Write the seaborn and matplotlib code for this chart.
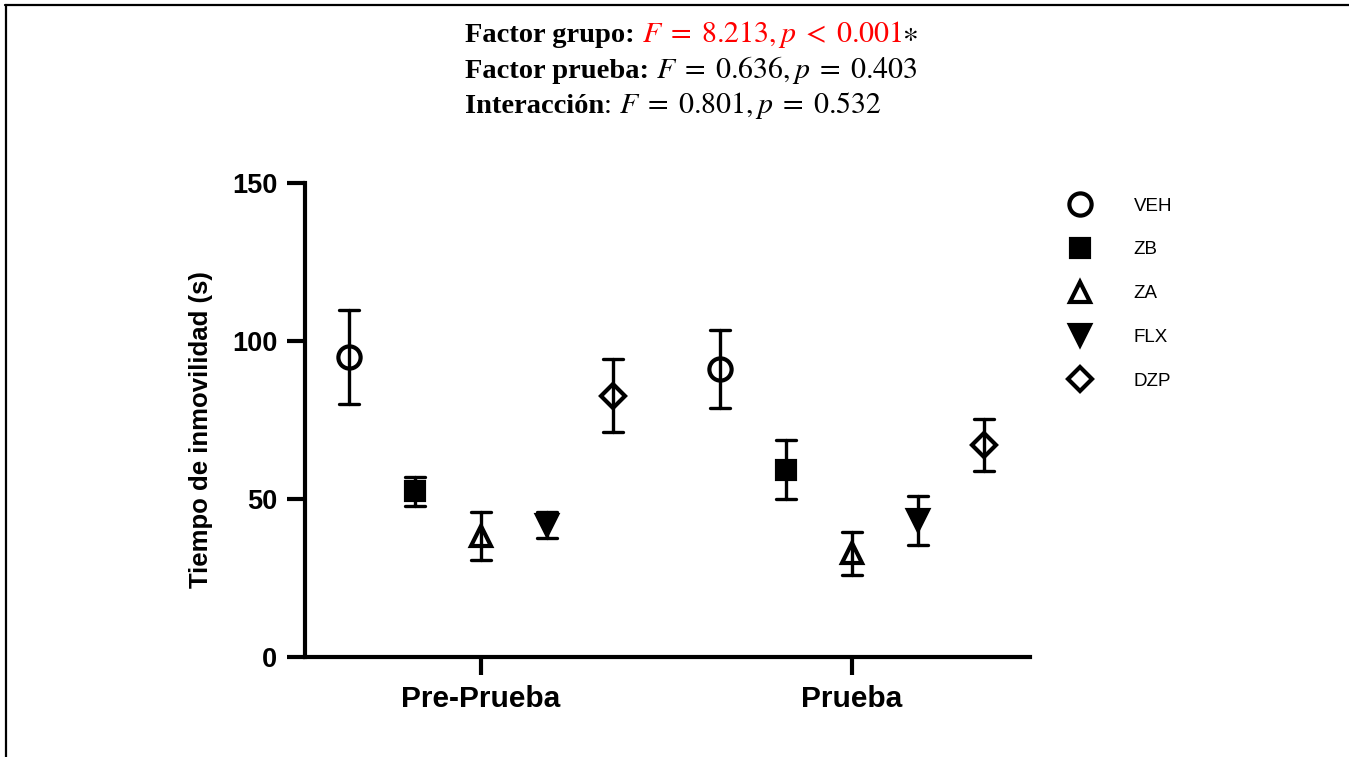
#!/usr/bin/env python3
"""
Tiempo de inmovilidad por grupo y prueba (media +/- error).
"""
import pandas as pd
import seaborn as sns
import matplotlib.pyplot as plt
from matplotlib.lines import Line2D
from matplotlib.offsetbox import TextArea, HPacker, VPacker, AnchoredOffsetbox

groups = ['VEH', 'ZB', 'ZA', 'FLX', 'DZP']
phases = ['Pre-Prueba', 'Prueba']
pre_mean = [94.9, 52.4, 38.4, 41.8, 82.7]
pre_err = [14.8, 4.6, 7.6, 4.2, 11.5]
post_mean = [91.1, 59.3, 32.8, 43.2, 67.1]
post_err = [12.4, 9.4, 6.9, 7.8, 8.2]
markers = ['o', 's', '^', 'v', 'D']
open_markers = ['o', '^', 'D']
marker_sizes = {'o': 16, 's': 13.5, '^': 14, 'v': 14, 'D': 12}

# two rows per cell (mean - err, mean + err): the mean is the centre, min/max give the bar
rows = []
for phase, means, errs in [(phases[0], pre_mean, pre_err), (phases[1], post_mean, post_err)]:
    for g, m, e in zip(groups, means, errs):
        rows.append({'phase': phase, 'group': g, 'value': m - e})
        rows.append({'phase': phase, 'group': g, 'value': m + e})
df = pd.DataFrame(rows)

sns.set_style('white')
plt.rcParams['font.family'] = ['Liberation Sans', 'DejaVu Sans']
plt.rcParams['mathtext.fontset'] = 'stix'
plt.rcParams['text.color'] = 'black'
plt.rcParams['axes.labelcolor'] = 'black'
plt.rcParams['xtick.color'] = 'black'
plt.rcParams['ytick.color'] = 'black'
plt.rcParams['axes.edgecolor'] = 'black'

fig = plt.figure(figsize=(13.49, 7.57), dpi=100)
ax = fig.add_axes([0.2261, 0.1321, 0.5374, 0.6262])

sns.pointplot(data=df, x='phase', y='value', hue='group', order=phases, hue_order=groups,
              estimator='mean', errorbar=lambda v: (v.min(), v.max()),
              palette=['black'] * 5, markers=markers, linestyles='none',
              dodge=0.71, capsize=0.054, err_kws={'linewidth': 2.4},
              markersize=13, markeredgewidth=3, legend=False, ax=ax)

for line in ax.lines:
    m = line.get_marker()
    if m in open_markers:
        line.set_markerfacecolor('none')
    if m in marker_sizes:
        line.set_markersize(marker_sizes[m])

ax.set_xlim(-0.474, 1.48)
ax.set_ylim(0, 150)
ax.set_yticks([0, 50, 100, 150])
ax.set_xlabel('')
ax.set_ylabel('Tiempo de inmovilidad (s)', fontsize=18.5, fontweight='bold')
ax.yaxis.set_label_coords(-0.127, 0.479)
sns.despine(ax=ax)
for s in ['left', 'bottom']:
    ax.spines[s].set_linewidth(3)
ax.tick_params(axis='both', which='major', length=13, width=3,
               labelsize=19.5, pad=7, left=True, bottom=True)
ax.tick_params(axis='x', labelsize=21.5, pad=7)
for lab in ax.get_xticklabels() + ax.get_yticklabels():
    lab.set_fontweight('bold')

handles = []
for m in markers:
    fc = 'none' if m in open_markers else 'black'
    handles.append(Line2D([], [], marker=m, color='black', linestyle='none',
                          markerfacecolor=fc, markersize=marker_sizes[m], markeredgewidth=3))
fig.legend(handles, groups, loc='upper left', bbox_to_anchor=(0.793, 0.739),
           frameon=False, fontsize=13.5, handlelength=1.1, handletextpad=2.3,
           labelspacing=1.42, borderpad=0, borderaxespad=0)

# ANOVA summary above the plot
serif = ['Liberation Serif', 'DejaVu Serif']
bold = dict(family=serif, fontweight='bold', fontsize=20.5, color='black')
reg = dict(family=serif, fontsize=20.5, color='black')
math = dict(family=serif, fontsize=21.5, color='black')
red = dict(family=serif, fontsize=21.5, color='red')
line1 = HPacker(children=[TextArea('Factor grupo: ', textprops=bold),
                          TextArea(r'$F\;=\;8.213,p\;<\;0.001$', textprops=red),
                          TextArea(r'$\ast$', textprops=math)],
                align='baseline', pad=0, sep=0)
line2 = HPacker(children=[TextArea('Factor prueba: ', textprops=bold),
                          TextArea(r'$F\;=\;0.636,p\;=\;0.403$', textprops=math)],
                align='baseline', pad=0, sep=0)
line3 = HPacker(children=[TextArea('Interacción', textprops=bold),
                          TextArea(': ', textprops=reg),
                          TextArea(r'$F\;=\;0.801,p\;=\;0.532$', textprops=math)],
                align='baseline', pad=0, sep=0)
block = VPacker(children=[line1, line2, line3], align='left', pad=0, sep=3)
box = AnchoredOffsetbox(loc='upper left', child=block, frameon=False, pad=0, borderpad=0,
                        bbox_to_anchor=(0.3447, 0.975), bbox_transform=fig.transFigure)
fig.add_artist(box)

# frame lines at the top and left edge
fig.add_artist(Line2D([0.004, 1.0], [0.993, 0.993], color='black', linewidth=1.6,
                      transform=fig.transFigure))
fig.add_artist(Line2D([0.0045, 0.0045], [0.0, 0.993], color='black', linewidth=1.6,
                      transform=fig.transFigure))

fig.savefig('out.png', dpi=100)
plt.close(fig)
